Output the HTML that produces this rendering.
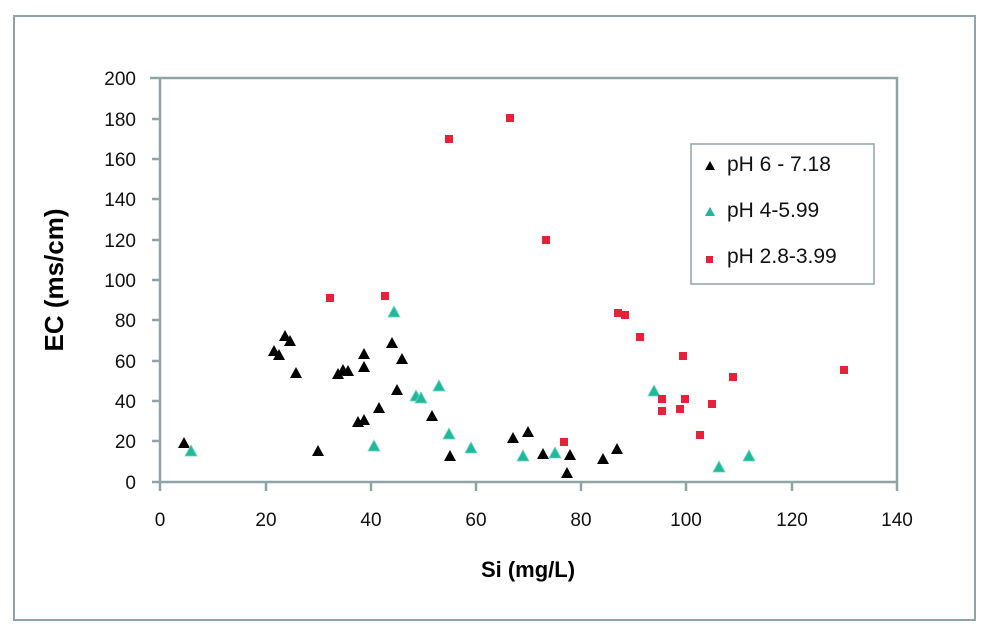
<!DOCTYPE html>
<html><head><style>body{margin:0;background:#fff}svg{display:block}</style></head><body>
<svg width="1000" height="635" xmlns="http://www.w3.org/2000/svg" font-family="Liberation Sans, sans-serif">
<defs>
<path id="tb" d="M0,-6 L6,5 L-6,5 Z" fill="#000"/>
<path id="tt" d="M0,-6 L6,5 L-6,5 Z" fill="#1fb89a" stroke="#6ad8c0" stroke-width="0.8"/>
<rect id="sq" x="-4" y="-4" width="8" height="8" fill="#e8203a"/>
</defs>
<rect x="14" y="16" width="961" height="604" fill="#fff" stroke="#8fa3a8" stroke-width="2"/>
<g stroke="#8fa3a8" stroke-width="2.5" fill="none">
<path d="M150,78 H897 V482"/>
<path d="M160,78 V482 H897"/>
<path d="M152,119 H160 M152,159 H160 M152,199 H160 M152,240 H160 M152,280 H160 M152,320 H160 M152,361 H160 M152,401 H160 M152,441 H160 M152,482 H160"/>
<path d="M160,482 V491 M266,482 V491 M371,482 V491 M476,482 V491 M581,482 V491 M686,482 V491 M792,482 V491 M897,482 V491"/>
</g>
<g font-size="19" text-anchor="end" fill="#111">
<text x="136" y="85">200</text><text x="136" y="126">180</text><text x="136" y="166">160</text><text x="136" y="206">140</text><text x="136" y="247">120</text><text x="136" y="287">100</text><text x="136" y="327">80</text><text x="136" y="368">60</text><text x="136" y="408">40</text><text x="136" y="448">20</text><text x="136" y="489">0</text>
</g>
<g font-size="19" text-anchor="middle" fill="#111">
<text x="160" y="526">0</text><text x="266" y="526">20</text><text x="371" y="526">40</text><text x="476" y="526">60</text><text x="581" y="526">80</text><text x="686" y="526">100</text><text x="792" y="526">120</text><text x="897" y="526">140</text>
</g>
<text x="528" y="577" font-size="22" font-weight="bold" text-anchor="middle">Si (mg/L)</text>
<text transform="translate(63,280) rotate(-90)" font-size="26" font-weight="bold" text-anchor="middle">EC (ms/cm)</text>
<g>
<use href="#tb" x="184" y="443"/><use href="#tb" x="274" y="351"/><use href="#tb" x="279" y="355"/><use href="#tb" x="285" y="336"/><use href="#tb" x="290" y="341"/><use href="#tb" x="296" y="373"/><use href="#tb" x="318" y="451"/><use href="#tb" x="338" y="374"/><use href="#tb" x="343" y="370"/><use href="#tb" x="348" y="371"/><use href="#tb" x="364" y="354"/><use href="#tb" x="364" y="367"/><use href="#tb" x="358" y="422"/><use href="#tb" x="364" y="420"/><use href="#tb" x="379" y="408"/><use href="#tb" x="392" y="343"/><use href="#tb" x="397" y="390"/><use href="#tb" x="402" y="359"/><use href="#tb" x="432" y="416"/><use href="#tb" x="450" y="456"/><use href="#tb" x="513" y="438"/><use href="#tb" x="528" y="432"/><use href="#tb" x="543" y="454"/><use href="#tb" x="570" y="455"/><use href="#tb" x="567" y="473"/><use href="#tb" x="603" y="459"/><use href="#tb" x="617" y="449"/>
<use href="#tt" x="191" y="451"/><use href="#tt" x="394" y="312"/><use href="#tt" x="374" y="446"/><use href="#tt" x="416" y="396"/><use href="#tt" x="421" y="398"/><use href="#tt" x="439" y="386"/><use href="#tt" x="449" y="434"/><use href="#tt" x="471" y="448"/><use href="#tt" x="523" y="456"/><use href="#tt" x="555" y="453"/><use href="#tt" x="654" y="391"/><use href="#tt" x="719" y="467"/><use href="#tt" x="749" y="456"/>
<use href="#sq" x="330" y="298"/><use href="#sq" x="385" y="296"/><use href="#sq" x="449" y="139"/><use href="#sq" x="510" y="118"/><use href="#sq" x="546" y="240"/><use href="#sq" x="564" y="442"/><use href="#sq" x="618" y="313"/><use href="#sq" x="625" y="315"/><use href="#sq" x="640" y="337"/><use href="#sq" x="683" y="356"/><use href="#sq" x="662" y="399"/><use href="#sq" x="685" y="399"/><use href="#sq" x="662" y="411"/><use href="#sq" x="680" y="409"/><use href="#sq" x="712" y="404"/><use href="#sq" x="700" y="435"/><use href="#sq" x="733" y="377"/><use href="#sq" x="844" y="370"/>
</g>
<rect x="691" y="144" width="183" height="140" fill="#fff" stroke="#8fa3a8" stroke-width="1.5"/>
<path d="M710,161 L715,170 L705,170 Z" fill="#000"/>
<path d="M710,207 L715,216 L705,216 Z" fill="#1fb89a"/>
<rect x="706" y="256" width="7" height="7" fill="#e8203a"/>
<g font-size="21" fill="#111">
<text x="727" y="171">pH 6 - 7.18</text>
<text x="727" y="217">pH 4-5.99</text>
<text x="727" y="263">pH 2.8-3.99</text>
</g>
</svg>
</body></html>
